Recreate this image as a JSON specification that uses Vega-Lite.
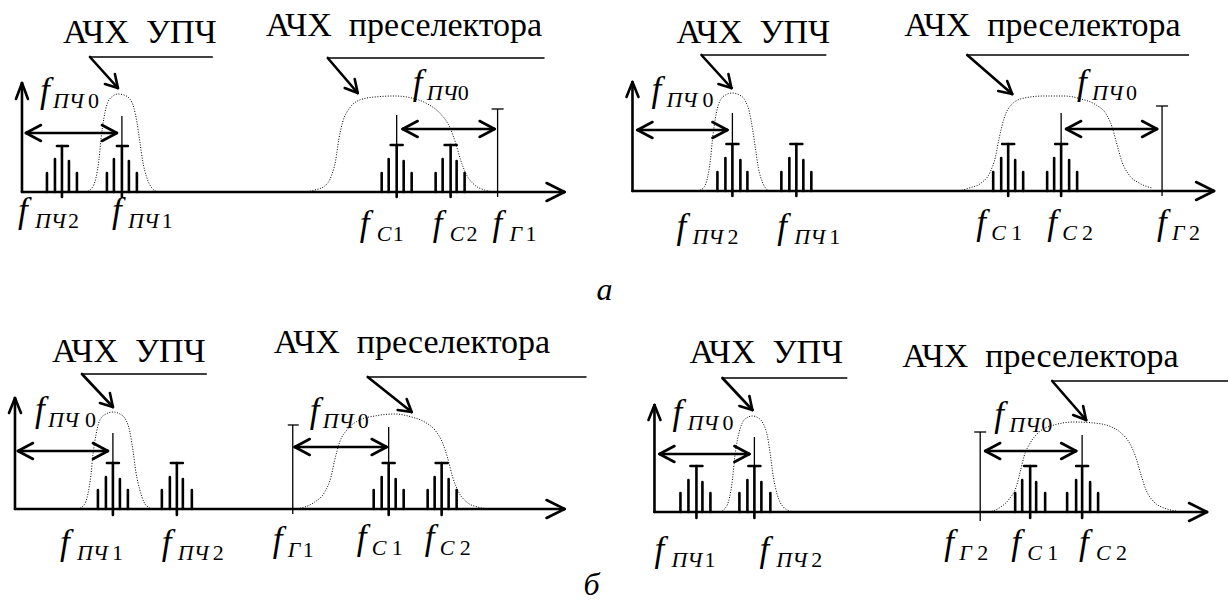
{
  "$schema": "https://vega.github.io/schema/vega-lite/v6.json",
  "width": 1229,
  "height": 604,
  "autosize": {"type": "fit", "contains": "padding"},
  "padding": 0,
  "background": "white",
  "config": {"view": {"stroke": null}},
  "datasets": {
    "texts": [
      {"k":"title","x":63,"y":43,"t":"АЧХ\u00a0\u00a0УПЧ"},
      {"k":"title","x":266,"y":36,"t":"АЧХ\u00a0\u00a0преселектора"},
      {"k":"title","x":677,"y":43,"t":"АЧХ\u00a0\u00a0УПЧ"},
      {"k":"title","x":905,"y":36,"t":"АЧХ\u00a0\u00a0преселектора"},
      {"k":"title","x":52,"y":362,"t":"АЧХ\u00a0\u00a0УПЧ"},
      {"k":"title","x":274,"y":353,"t":"АЧХ\u00a0\u00a0преселектора"},
      {"k":"title","x":690,"y":363,"t":"АЧХ\u00a0\u00a0УПЧ"},
      {"k":"title","x":903,"y":367,"t":"АЧХ\u00a0\u00a0преселектора"},
      {"k":"panel","x":597,"y":300,"t":"а"},
      {"k":"panel","x":584,"y":595,"t":"б"},

      {"k":"f","x":40,"y":102,"t":"f"},{"k":"sub","x":53,"y":108,"t":"ПЧ"},{"k":"num","x":88,"y":108,"t":"0"},
      {"k":"f","x":18,"y":222,"t":"f"},{"k":"sub","x":35,"y":228,"t":"ПЧ"},{"k":"num","x":68,"y":228,"t":"2"},
      {"k":"f","x":112,"y":222,"t":"f"},{"k":"sub","x":128,"y":228,"t":"ПЧ"},{"k":"num","x":162,"y":228,"t":"1"},
      {"k":"f","x":413,"y":94,"t":"f"},{"k":"sub","x":427,"y":100,"t":"ПЧ"},{"k":"num","x":458,"y":100,"t":"0"},
      {"k":"f","x":360,"y":235,"t":"f"},{"k":"sub","x":377,"y":241,"t":"С"},{"k":"num","x":393,"y":241,"t":"1"},
      {"k":"f","x":433,"y":235,"t":"f"},{"k":"sub","x":450,"y":241,"t":"С"},{"k":"num","x":467,"y":241,"t":"2"},
      {"k":"f","x":493,"y":235,"t":"f"},{"k":"sub","x":510,"y":241,"t":"Г"},{"k":"num","x":526,"y":241,"t":"1"},

      {"k":"f","x":652,"y":101,"t":"f"},{"k":"sub","x":667,"y":107,"t":"ПЧ"},{"k":"num","x":703,"y":107,"t":"0"},
      {"k":"f","x":677,"y":238,"t":"f"},{"k":"sub","x":693,"y":244,"t":"ПЧ"},{"k":"num","x":728,"y":244,"t":"2"},
      {"k":"f","x":778,"y":238,"t":"f"},{"k":"sub","x":795,"y":244,"t":"ПЧ"},{"k":"num","x":830,"y":244,"t":"1"},
      {"k":"f","x":1078,"y":94,"t":"f"},{"k":"sub","x":1093,"y":100,"t":"ПЧ"},{"k":"num","x":1127,"y":100,"t":"0"},
      {"k":"f","x":977,"y":234,"t":"f"},{"k":"sub","x":992,"y":240,"t":"С"},{"k":"num","x":1012,"y":240,"t":"1"},
      {"k":"f","x":1048,"y":234,"t":"f"},{"k":"sub","x":1063,"y":240,"t":"С"},{"k":"num","x":1083,"y":240,"t":"2"},
      {"k":"f","x":1158,"y":234,"t":"f"},{"k":"sub","x":1173,"y":240,"t":"Г"},{"k":"num","x":1190,"y":240,"t":"2"},

      {"k":"f","x":35,"y":421,"t":"f"},{"k":"sub","x":48,"y":427,"t":"ПЧ"},{"k":"num","x":85,"y":427,"t":"0"},
      {"k":"f","x":310,"y":422,"t":"f"},{"k":"sub","x":323,"y":428,"t":"ПЧ"},{"k":"num","x":358,"y":428,"t":"0"},
      {"k":"f","x":60,"y":554,"t":"f"},{"k":"sub","x":77,"y":560,"t":"ПЧ"},{"k":"num","x":112,"y":560,"t":"1"},
      {"k":"f","x":162,"y":554,"t":"f"},{"k":"sub","x":178,"y":560,"t":"ПЧ"},{"k":"num","x":213,"y":560,"t":"2"},
      {"k":"f","x":273,"y":551,"t":"f"},{"k":"sub","x":288,"y":557,"t":"Г"},{"k":"num","x":303,"y":557,"t":"1"},
      {"k":"f","x":357,"y":549,"t":"f"},{"k":"sub","x":372,"y":555,"t":"С"},{"k":"num","x":392,"y":555,"t":"1"},
      {"k":"f","x":425,"y":549,"t":"f"},{"k":"sub","x":440,"y":555,"t":"С"},{"k":"num","x":460,"y":555,"t":"2"},

      {"k":"f","x":673,"y":424,"t":"f"},{"k":"sub","x":688,"y":430,"t":"ПЧ"},{"k":"num","x":723,"y":430,"t":"0"},
      {"k":"f","x":655,"y":561,"t":"f"},{"k":"sub","x":672,"y":567,"t":"ПЧ"},{"k":"num","x":705,"y":567,"t":"1"},
      {"k":"f","x":760,"y":561,"t":"f"},{"k":"sub","x":777,"y":567,"t":"ПЧ"},{"k":"num","x":812,"y":567,"t":"2"},
      {"k":"f","x":995,"y":426,"t":"f"},{"k":"sub","x":1010,"y":432,"t":"ПЧ"},{"k":"num","x":1042,"y":432,"t":"0"},
      {"k":"f","x":945,"y":554,"t":"f"},{"k":"sub","x":960,"y":560,"t":"Г"},{"k":"num","x":978,"y":560,"t":"2"},
      {"k":"f","x":1012,"y":554,"t":"f"},{"k":"sub","x":1028,"y":560,"t":"С"},{"k":"num","x":1048,"y":560,"t":"1"},
      {"k":"f","x":1080,"y":554,"t":"f"},{"k":"sub","x":1097,"y":560,"t":"С"},{"k":"num","x":1117,"y":560,"t":"2"}
    ],
    "segs": [
      {"x":22,"y":192,"x2":22,"y2":83,"type":"axis"},
      {"x":22,"y":83,"x2":16,"y2":99,"type":"axis"},
      {"x":22,"y":83,"x2":28,"y2":99,"type":"axis"},
      {"x":22,"y":192,"x2":565,"y2":192,"type":"axis"},
      {"x":565,"y":192,"x2":547,"y2":183,"type":"axis"},
      {"x":565,"y":192,"x2":547,"y2":201,"type":"axis"},
      {"x":26,"y":133,"x2":117,"y2":133,"type":"arrow"},
      {"x":26,"y":133,"x2":41,"y2":125,"type":"arrow"},
      {"x":26,"y":133,"x2":41,"y2":141,"type":"arrow"},
      {"x":117,"y":133,"x2":102,"y2":125,"type":"arrow"},
      {"x":117,"y":133,"x2":102,"y2":141,"type":"arrow"},
      {"x":403,"y":129,"x2":495,"y2":129,"type":"arrow"},
      {"x":403,"y":129,"x2":418,"y2":121,"type":"arrow"},
      {"x":403,"y":129,"x2":418,"y2":137,"type":"arrow"},
      {"x":495,"y":129,"x2":480,"y2":121,"type":"arrow"},
      {"x":495,"y":129,"x2":480,"y2":137,"type":"arrow"},
      {"x":47,"y":192,"x2":47,"y2":173,"type":"line"},
      {"x":55,"y":192,"x2":55,"y2":159,"type":"line"},
      {"x":62,"y":197,"x2":62,"y2":146,"type":"line"},
      {"x":57,"y":146,"x2":68,"y2":146,"type":"line"},
      {"x":69,"y":192,"x2":69,"y2":161,"type":"line"},
      {"x":77,"y":192,"x2":77,"y2":173,"type":"line"},
      {"x":107,"y":192,"x2":107,"y2":173,"type":"line"},
      {"x":114,"y":192,"x2":114,"y2":159,"type":"line"},
      {"x":122,"y":197,"x2":122,"y2":146,"type":"line"},
      {"x":117,"y":146,"x2":128,"y2":146,"type":"line"},
      {"x":129,"y":192,"x2":129,"y2":161,"type":"line"},
      {"x":137,"y":192,"x2":137,"y2":173,"type":"line"},
      {"x":382,"y":192,"x2":382,"y2":173,"type":"line"},
      {"x":389,"y":192,"x2":389,"y2":159,"type":"line"},
      {"x":397,"y":197,"x2":397,"y2":145,"type":"line"},
      {"x":391,"y":145,"x2":403,"y2":145,"type":"line"},
      {"x":404,"y":192,"x2":404,"y2":161,"type":"line"},
      {"x":412,"y":192,"x2":412,"y2":173,"type":"line"},
      {"x":436,"y":192,"x2":436,"y2":173,"type":"line"},
      {"x":443,"y":192,"x2":443,"y2":159,"type":"line"},
      {"x":451,"y":197,"x2":451,"y2":145,"type":"line"},
      {"x":445,"y":145,"x2":457,"y2":145,"type":"line"},
      {"x":457,"y":192,"x2":457,"y2":161,"type":"line"},
      {"x":465,"y":192,"x2":465,"y2":173,"type":"line"},
      {"x":90,"y":57,"x2":118,"y2":88,"type":"pointer"},
      {"x":118,"y":88,"x2":115,"y2":74,"type":"pointer"},
      {"x":118,"y":88,"x2":105,"y2":84,"type":"pointer"},
      {"x":328,"y":58,"x2":358,"y2":93,"type":"pointer"},
      {"x":358,"y":93,"x2":355,"y2":79,"type":"pointer"},
      {"x":358,"y":93,"x2":345,"y2":88,"type":"pointer"},
      {"x":122,"y":146,"x2":122,"y2":116,"type":"marker"},
      {"x":397,"y":145,"x2":397,"y2":115,"type":"marker"},
      {"x":498,"y":197,"x2":498,"y2":109,"type":"marker"},
      {"x":492,"y":109,"x2":504,"y2":109,"type":"marker"},
      {"x":90,"y":57,"x2":213,"y2":57,"type":"leader"},
      {"x":328,"y":58,"x2":545,"y2":58,"type":"leader"},

      {"x":633,"y":191,"x2":633,"y2":82,"type":"axis"},
      {"x":633,"y":82,"x2":627,"y2":97,"type":"axis"},
      {"x":633,"y":82,"x2":639,"y2":97,"type":"axis"},
      {"x":633,"y":191,"x2":1215,"y2":191,"type":"axis"},
      {"x":1215,"y":191,"x2":1197,"y2":182,"type":"axis"},
      {"x":1215,"y":191,"x2":1197,"y2":200,"type":"axis"},
      {"x":638,"y":130,"x2":728,"y2":130,"type":"arrow"},
      {"x":638,"y":130,"x2":653,"y2":122,"type":"arrow"},
      {"x":638,"y":130,"x2":653,"y2":138,"type":"arrow"},
      {"x":728,"y":130,"x2":713,"y2":122,"type":"arrow"},
      {"x":728,"y":130,"x2":713,"y2":138,"type":"arrow"},
      {"x":1067,"y":129,"x2":1158,"y2":129,"type":"arrow"},
      {"x":1067,"y":129,"x2":1082,"y2":121,"type":"arrow"},
      {"x":1067,"y":129,"x2":1082,"y2":137,"type":"arrow"},
      {"x":1158,"y":129,"x2":1143,"y2":121,"type":"arrow"},
      {"x":1158,"y":129,"x2":1143,"y2":137,"type":"arrow"},
      {"x":718,"y":191,"x2":718,"y2":172,"type":"line"},
      {"x":726,"y":191,"x2":726,"y2":158,"type":"line"},
      {"x":733,"y":196,"x2":733,"y2":144,"type":"line"},
      {"x":727,"y":144,"x2":739,"y2":144,"type":"line"},
      {"x":741,"y":191,"x2":741,"y2":160,"type":"line"},
      {"x":748,"y":191,"x2":748,"y2":172,"type":"line"},
      {"x":782,"y":191,"x2":782,"y2":172,"type":"line"},
      {"x":790,"y":191,"x2":790,"y2":158,"type":"line"},
      {"x":797,"y":196,"x2":797,"y2":144,"type":"line"},
      {"x":791,"y":144,"x2":803,"y2":144,"type":"line"},
      {"x":804,"y":191,"x2":804,"y2":160,"type":"line"},
      {"x":812,"y":191,"x2":812,"y2":172,"type":"line"},
      {"x":994,"y":191,"x2":994,"y2":172,"type":"line"},
      {"x":1002,"y":191,"x2":1002,"y2":158,"type":"line"},
      {"x":1009,"y":196,"x2":1009,"y2":144,"type":"line"},
      {"x":1003,"y":144,"x2":1015,"y2":144,"type":"line"},
      {"x":1016,"y":191,"x2":1016,"y2":160,"type":"line"},
      {"x":1024,"y":191,"x2":1024,"y2":172,"type":"line"},
      {"x":1048,"y":191,"x2":1048,"y2":172,"type":"line"},
      {"x":1055,"y":191,"x2":1055,"y2":158,"type":"line"},
      {"x":1062,"y":196,"x2":1062,"y2":144,"type":"line"},
      {"x":1056,"y":144,"x2":1068,"y2":144,"type":"line"},
      {"x":1070,"y":191,"x2":1070,"y2":160,"type":"line"},
      {"x":1078,"y":191,"x2":1078,"y2":172,"type":"line"},
      {"x":702,"y":55,"x2":732,"y2":88,"type":"pointer"},
      {"x":732,"y":88,"x2":729,"y2":74,"type":"pointer"},
      {"x":732,"y":88,"x2":719,"y2":84,"type":"pointer"},
      {"x":968,"y":55,"x2":1013,"y2":94,"type":"pointer"},
      {"x":1013,"y":94,"x2":1008,"y2":81,"type":"pointer"},
      {"x":1013,"y":94,"x2":999,"y2":91,"type":"pointer"},
      {"x":733,"y":144,"x2":733,"y2":113,"type":"marker"},
      {"x":1062,"y":144,"x2":1062,"y2":113,"type":"marker"},
      {"x":1163,"y":196,"x2":1163,"y2":106,"type":"marker"},
      {"x":1157,"y":106,"x2":1169,"y2":106,"type":"marker"},
      {"x":702,"y":55,"x2":827,"y2":55,"type":"leader"},
      {"x":968,"y":55,"x2":1190,"y2":55,"type":"leader"},

      {"x":15,"y":509,"x2":15,"y2":398,"type":"axis"},
      {"x":15,"y":398,"x2":9,"y2":413,"type":"axis"},
      {"x":15,"y":398,"x2":21,"y2":413,"type":"axis"},
      {"x":15,"y":509,"x2":565,"y2":509,"type":"axis"},
      {"x":565,"y":509,"x2":547,"y2":500,"type":"axis"},
      {"x":565,"y":509,"x2":547,"y2":518,"type":"axis"},
      {"x":18,"y":451,"x2":108,"y2":451,"type":"arrow"},
      {"x":18,"y":451,"x2":33,"y2":443,"type":"arrow"},
      {"x":18,"y":451,"x2":33,"y2":459,"type":"arrow"},
      {"x":108,"y":451,"x2":93,"y2":443,"type":"arrow"},
      {"x":108,"y":451,"x2":93,"y2":459,"type":"arrow"},
      {"x":295,"y":447,"x2":387,"y2":447,"type":"arrow"},
      {"x":295,"y":447,"x2":310,"y2":439,"type":"arrow"},
      {"x":295,"y":447,"x2":310,"y2":455,"type":"arrow"},
      {"x":387,"y":447,"x2":372,"y2":439,"type":"arrow"},
      {"x":387,"y":447,"x2":372,"y2":455,"type":"arrow"},
      {"x":98,"y":509,"x2":98,"y2":490,"type":"line"},
      {"x":106,"y":509,"x2":106,"y2":477,"type":"line"},
      {"x":113,"y":515,"x2":113,"y2":463,"type":"line"},
      {"x":107,"y":463,"x2":119,"y2":463,"type":"line"},
      {"x":120,"y":509,"x2":120,"y2":479,"type":"line"},
      {"x":128,"y":509,"x2":128,"y2":490,"type":"line"},
      {"x":162,"y":509,"x2":162,"y2":490,"type":"line"},
      {"x":170,"y":509,"x2":170,"y2":477,"type":"line"},
      {"x":177,"y":515,"x2":177,"y2":463,"type":"line"},
      {"x":171,"y":463,"x2":183,"y2":463,"type":"line"},
      {"x":183,"y":509,"x2":183,"y2":479,"type":"line"},
      {"x":192,"y":509,"x2":192,"y2":490,"type":"line"},
      {"x":374,"y":509,"x2":374,"y2":490,"type":"line"},
      {"x":382,"y":509,"x2":382,"y2":477,"type":"line"},
      {"x":389,"y":515,"x2":389,"y2":463,"type":"line"},
      {"x":383,"y":463,"x2":395,"y2":463,"type":"line"},
      {"x":396,"y":509,"x2":396,"y2":479,"type":"line"},
      {"x":404,"y":509,"x2":404,"y2":490,"type":"line"},
      {"x":428,"y":509,"x2":428,"y2":490,"type":"line"},
      {"x":435,"y":509,"x2":435,"y2":477,"type":"line"},
      {"x":442,"y":515,"x2":442,"y2":463,"type":"line"},
      {"x":436,"y":463,"x2":448,"y2":463,"type":"line"},
      {"x":449,"y":509,"x2":449,"y2":479,"type":"line"},
      {"x":457,"y":509,"x2":457,"y2":490,"type":"line"},
      {"x":82,"y":374,"x2":113,"y2":407,"type":"pointer"},
      {"x":113,"y":407,"x2":110,"y2":393,"type":"pointer"},
      {"x":113,"y":407,"x2":100,"y2":403,"type":"pointer"},
      {"x":368,"y":377,"x2":412,"y2":412,"type":"pointer"},
      {"x":412,"y":412,"x2":407,"y2":399,"type":"pointer"},
      {"x":412,"y":412,"x2":398,"y2":410,"type":"pointer"},
      {"x":113,"y":463,"x2":113,"y2":433,"type":"marker"},
      {"x":389,"y":463,"x2":389,"y2":427,"type":"marker"},
      {"x":293,"y":514,"x2":293,"y2":425,"type":"marker"},
      {"x":288,"y":425,"x2":299,"y2":425,"type":"marker"},
      {"x":82,"y":374,"x2":207,"y2":374,"type":"leader"},
      {"x":368,"y":377,"x2":587,"y2":377,"type":"leader"},

      {"x":655,"y":512,"x2":655,"y2":405,"type":"axis"},
      {"x":655,"y":405,"x2":649,"y2":420,"type":"axis"},
      {"x":655,"y":405,"x2":661,"y2":420,"type":"axis"},
      {"x":655,"y":512,"x2":1208,"y2":512,"type":"axis"},
      {"x":1208,"y":512,"x2":1190,"y2":503,"type":"axis"},
      {"x":1208,"y":512,"x2":1190,"y2":521,"type":"axis"},
      {"x":660,"y":454,"x2":750,"y2":454,"type":"arrow"},
      {"x":660,"y":454,"x2":675,"y2":446,"type":"arrow"},
      {"x":660,"y":454,"x2":675,"y2":462,"type":"arrow"},
      {"x":750,"y":454,"x2":735,"y2":446,"type":"arrow"},
      {"x":750,"y":454,"x2":735,"y2":462,"type":"arrow"},
      {"x":986,"y":451,"x2":1077,"y2":451,"type":"arrow"},
      {"x":986,"y":451,"x2":1001,"y2":443,"type":"arrow"},
      {"x":986,"y":451,"x2":1001,"y2":459,"type":"arrow"},
      {"x":1077,"y":451,"x2":1062,"y2":443,"type":"arrow"},
      {"x":1077,"y":451,"x2":1062,"y2":459,"type":"arrow"},
      {"x":681,"y":512,"x2":681,"y2":493,"type":"line"},
      {"x":689,"y":512,"x2":689,"y2":480,"type":"line"},
      {"x":697,"y":518,"x2":697,"y2":466,"type":"line"},
      {"x":691,"y":466,"x2":703,"y2":466,"type":"line"},
      {"x":703,"y":512,"x2":703,"y2":482,"type":"line"},
      {"x":711,"y":512,"x2":711,"y2":493,"type":"line"},
      {"x":740,"y":512,"x2":740,"y2":493,"type":"line"},
      {"x":748,"y":512,"x2":748,"y2":480,"type":"line"},
      {"x":755,"y":518,"x2":755,"y2":466,"type":"line"},
      {"x":749,"y":466,"x2":761,"y2":466,"type":"line"},
      {"x":762,"y":512,"x2":762,"y2":482,"type":"line"},
      {"x":771,"y":512,"x2":771,"y2":493,"type":"line"},
      {"x":1016,"y":512,"x2":1016,"y2":493,"type":"line"},
      {"x":1023,"y":512,"x2":1023,"y2":480,"type":"line"},
      {"x":1031,"y":518,"x2":1031,"y2":466,"type":"line"},
      {"x":1025,"y":466,"x2":1037,"y2":466,"type":"line"},
      {"x":1037,"y":512,"x2":1037,"y2":482,"type":"line"},
      {"x":1046,"y":512,"x2":1046,"y2":493,"type":"line"},
      {"x":1068,"y":512,"x2":1068,"y2":493,"type":"line"},
      {"x":1077,"y":512,"x2":1077,"y2":480,"type":"line"},
      {"x":1083,"y":518,"x2":1083,"y2":466,"type":"line"},
      {"x":1077,"y":466,"x2":1089,"y2":466,"type":"line"},
      {"x":1091,"y":512,"x2":1091,"y2":482,"type":"line"},
      {"x":1099,"y":512,"x2":1099,"y2":493,"type":"line"},
      {"x":723,"y":378,"x2":753,"y2":410,"type":"pointer"},
      {"x":753,"y":410,"x2":750,"y2":396,"type":"pointer"},
      {"x":753,"y":410,"x2":740,"y2":406,"type":"pointer"},
      {"x":1053,"y":381,"x2":1087,"y2":420,"type":"pointer"},
      {"x":1087,"y":420,"x2":1084,"y2":406,"type":"pointer"},
      {"x":1087,"y":420,"x2":1074,"y2":415,"type":"pointer"},
      {"x":755,"y":466,"x2":755,"y2":437,"type":"marker"},
      {"x":1083,"y":466,"x2":1083,"y2":435,"type":"marker"},
      {"x":981,"y":521,"x2":981,"y2":432,"type":"marker"},
      {"x":975,"y":432,"x2":987,"y2":432,"type":"marker"},
      {"x":723,"y":378,"x2":848,"y2":378,"type":"leader"},
      {"x":1053,"y":381,"x2":1229,"y2":381,"type":"leader"}
    ],
    "curves": [
      {"c":"a1u","x":86,"y":192},{"c":"a1u","x":92,"y":188},{"c":"a1u","x":96,"y":178},{"c":"a1u","x":99,"y":160},{"c":"a1u","x":101,"y":140},{"c":"a1u","x":104,"y":118},{"c":"a1u","x":108,"y":102},{"c":"a1u","x":113,"y":96},{"c":"a1u","x":118,"y":94},{"c":"a1u","x":124,"y":95},{"c":"a1u","x":130,"y":99},{"c":"a1u","x":134,"y":108},{"c":"a1u","x":137,"y":122},{"c":"a1u","x":140,"y":142},{"c":"a1u","x":143,"y":162},{"c":"a1u","x":147,"y":178},{"c":"a1u","x":152,"y":188},{"c":"a1u","x":158,"y":192},
      {"c":"a1p","x":305,"y":192},{"c":"a1p","x":315,"y":190},{"c":"a1p","x":325,"y":186},{"c":"a1p","x":332,"y":175},{"c":"a1p","x":336,"y":160},{"c":"a1p","x":339,"y":140},{"c":"a1p","x":343,"y":122},{"c":"a1p","x":350,"y":108},{"c":"a1p","x":360,"y":100},{"c":"a1p","x":375,"y":97},{"c":"a1p","x":395,"y":96},{"c":"a1p","x":412,"y":98},{"c":"a1p","x":428,"y":104},{"c":"a1p","x":441,"y":114},{"c":"a1p","x":450,"y":127},{"c":"a1p","x":456,"y":143},{"c":"a1p","x":461,"y":160},{"c":"a1p","x":467,"y":175},{"c":"a1p","x":475,"y":185},{"c":"a1p","x":485,"y":190},{"c":"a1p","x":495,"y":192},
      {"c":"a2u","x":698,"y":191},{"c":"a2u","x":704,"y":188},{"c":"a2u","x":708,"y":178},{"c":"a2u","x":711,"y":160},{"c":"a2u","x":713,"y":140},{"c":"a2u","x":716,"y":118},{"c":"a2u","x":720,"y":102},{"c":"a2u","x":726,"y":95},{"c":"a2u","x":733,"y":93},{"c":"a2u","x":740,"y":95},{"c":"a2u","x":746,"y":101},{"c":"a2u","x":750,"y":112},{"c":"a2u","x":753,"y":128},{"c":"a2u","x":756,"y":148},{"c":"a2u","x":759,"y":168},{"c":"a2u","x":763,"y":182},{"c":"a2u","x":768,"y":190},
      {"c":"a2p","x":960,"y":191},{"c":"a2p","x":970,"y":188},{"c":"a2p","x":982,"y":183},{"c":"a2p","x":991,"y":172},{"c":"a2p","x":996,"y":158},{"c":"a2p","x":1000,"y":138},{"c":"a2p","x":1005,"y":118},{"c":"a2p","x":1013,"y":104},{"c":"a2p","x":1025,"y":98},{"c":"a2p","x":1045,"y":96},{"c":"a2p","x":1065,"y":96},{"c":"a2p","x":1082,"y":99},{"c":"a2p","x":1097,"y":105},{"c":"a2p","x":1107,"y":114},{"c":"a2p","x":1113,"y":127},{"c":"a2p","x":1118,"y":145},{"c":"a2p","x":1123,"y":162},{"c":"a2p","x":1130,"y":175},{"c":"a2p","x":1140,"y":183},{"c":"a2p","x":1153,"y":188},
      {"c":"b1u","x":78,"y":509},{"c":"b1u","x":84,"y":505},{"c":"b1u","x":88,"y":494},{"c":"b1u","x":91,"y":475},{"c":"b1u","x":93,"y":455},{"c":"b1u","x":96,"y":435},{"c":"b1u","x":100,"y":420},{"c":"b1u","x":106,"y":414},{"c":"b1u","x":113,"y":412},{"c":"b1u","x":120,"y":414},{"c":"b1u","x":126,"y":420},{"c":"b1u","x":130,"y":432},{"c":"b1u","x":133,"y":450},{"c":"b1u","x":136,"y":472},{"c":"b1u","x":140,"y":490},{"c":"b1u","x":144,"y":502},{"c":"b1u","x":150,"y":508},
      {"c":"b1p","x":295,"y":509},{"c":"b1p","x":305,"y":507},{"c":"b1p","x":315,"y":502},{"c":"b1p","x":325,"y":492},{"c":"b1p","x":331,"y":478},{"c":"b1p","x":335,"y":460},{"c":"b1p","x":340,"y":442},{"c":"b1p","x":348,"y":429},{"c":"b1p","x":360,"y":420},{"c":"b1p","x":375,"y":416},{"c":"b1p","x":395,"y":414},{"c":"b1p","x":412,"y":417},{"c":"b1p","x":425,"y":422},{"c":"b1p","x":436,"y":431},{"c":"b1p","x":443,"y":443},{"c":"b1p","x":448,"y":458},{"c":"b1p","x":453,"y":477},{"c":"b1p","x":459,"y":492},{"c":"b1p","x":467,"y":502},{"c":"b1p","x":478,"y":507},{"c":"b1p","x":490,"y":509},
      {"c":"b2u","x":720,"y":512},{"c":"b2u","x":726,"y":508},{"c":"b2u","x":730,"y":498},{"c":"b2u","x":733,"y":480},{"c":"b2u","x":735,"y":460},{"c":"b2u","x":738,"y":440},{"c":"b2u","x":742,"y":425},{"c":"b2u","x":747,"y":418},{"c":"b2u","x":753,"y":416},{"c":"b2u","x":759,"y":418},{"c":"b2u","x":764,"y":424},{"c":"b2u","x":768,"y":436},{"c":"b2u","x":771,"y":455},{"c":"b2u","x":774,"y":477},{"c":"b2u","x":778,"y":495},{"c":"b2u","x":784,"y":507},{"c":"b2u","x":791,"y":511},
      {"c":"b2p","x":990,"y":512},{"c":"b2p","x":1000,"y":508},{"c":"b2p","x":1010,"y":499},{"c":"b2p","x":1017,"y":487},{"c":"b2p","x":1021,"y":472},{"c":"b2p","x":1025,"y":456},{"c":"b2p","x":1031,"y":443},{"c":"b2p","x":1040,"y":432},{"c":"b2p","x":1055,"y":425},{"c":"b2p","x":1075,"y":422},{"c":"b2p","x":1095,"y":423},{"c":"b2p","x":1110,"y":426},{"c":"b2p","x":1122,"y":433},{"c":"b2p","x":1131,"y":444},{"c":"b2p","x":1137,"y":458},{"c":"b2p","x":1142,"y":475},{"c":"b2p","x":1147,"y":490},{"c":"b2p","x":1155,"y":502},{"c":"b2p","x":1165,"y":508},{"c":"b2p","x":1177,"y":511}
    ]
  },
  "encoding": {
    "x": {"field": "x", "type": "quantitative", "scale": {"domain": [0, 1229], "nice": false, "zero": false}, "axis": null},
    "y": {"field": "y", "type": "quantitative", "scale": {"domain": [0, 604], "nice": false, "zero": false, "reverse": true}, "axis": null}
  },
  "layer": [
    {
      "data": {"name": "texts"},
      "transform": [{"filter": "datum.k === 'title'"}],
      "mark": {"type": "text", "font": "Times New Roman", "fontSize": 34, "align": "left", "baseline": "alphabetic"},
      "encoding": {"text": {"field": "t"}}
    },
    {
      "data": {"name": "texts"},
      "transform": [{"filter": "datum.k === 'panel'"}],
      "mark": {"type": "text", "font": "Times New Roman", "fontSize": 32, "fontStyle": "italic", "align": "left", "baseline": "alphabetic"},
      "encoding": {"text": {"field": "t"}}
    },
    {
      "data": {"name": "texts"},
      "transform": [{"filter": "datum.k === 'f'"}],
      "mark": {"type": "text", "font": "Times New Roman", "fontSize": 35, "fontStyle": "italic", "align": "left", "baseline": "alphabetic"},
      "encoding": {"text": {"field": "t"}}
    },
    {
      "data": {"name": "texts"},
      "transform": [{"filter": "datum.k === 'sub'"}],
      "mark": {"type": "text", "font": "Times New Roman", "fontSize": 22, "fontStyle": "italic", "align": "left", "baseline": "alphabetic"},
      "encoding": {"text": {"field": "t"}}
    },
    {
      "data": {"name": "texts"},
      "transform": [{"filter": "datum.k === 'num'"}],
      "mark": {"type": "text", "font": "Times New Roman", "fontSize": 22, "align": "left", "baseline": "alphabetic"},
      "encoding": {"text": {"field": "t"}}
    },
    {
      "data": {"name": "curves"},
      "mark": {"type": "line", "color": "black", "strokeWidth": 1, "strokeDash": [1, 1.6], "interpolate": "monotone"},
      "encoding": {"detail": {"field": "c", "type": "nominal"}}
    },
    {
      "data": {"name": "segs"},
      "transform": [{"filter": {"field": "type", "oneOf": ["axis", "arrow", "line", "pointer"]}}],
      "mark": {"type": "rule", "color": "black", "strokeWidth": 2.6, "strokeCap": "round"},
      "encoding": {"x2": {"field": "x2"}, "y2": {"field": "y2"}}
    },
    {
      "data": {"name": "segs"},
      "transform": [{"filter": {"field": "type", "oneOf": ["marker", "leader"]}}],
      "mark": {"type": "rule", "color": "black", "strokeWidth": 1.3},
      "encoding": {"x2": {"field": "x2"}, "y2": {"field": "y2"}}
    }
  ]
}
